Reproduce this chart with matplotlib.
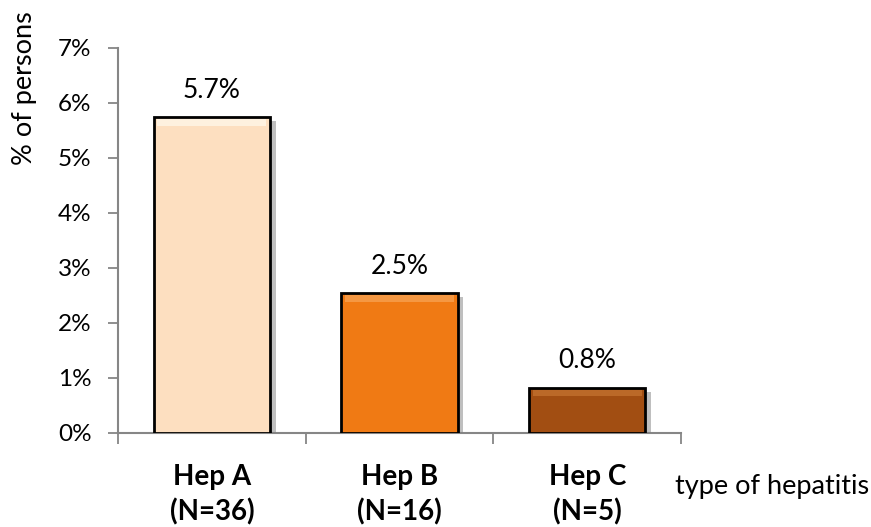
import matplotlib
matplotlib.use("Agg")
import matplotlib.pyplot as plt
import matplotlib.patheffects as pe
from matplotlib.ticker import FixedLocator, PercentFormatter

plt.rcParams['font.family'] = ['Lato', 'DejaVu Sans']

# data
categories = ["Hep A\n(N=36)", "Hep B\n(N=16)", "Hep C\n(N=5)"]
values = [5.74, 2.54, 0.82]
value_labels = ["5.7%", "2.5%", "0.8%"]
bar_colors = ["#FDDFC0", "#F07A14", "#A24E12"]
top_colors = ["#FFF6E8", "#F7A050", "#C2702E"]
y_ticks = [0, 1, 2, 3, 4, 5, 6, 7]

axis_grey = "#868686"

fig = plt.figure(figsize=(8.71, 5.27), dpi=100)
ax = fig.add_axes([0.1355, 0.1784, 0.6464, 0.7306])

x = list(range(len(categories)))
bars = ax.bar(x, values, width=0.62, color=bar_colors, edgecolor="black",
              linewidth=2, zorder=3,
              path_effects=[pe.SimplePatchShadow(offset=(4, -3), shadow_rgbFace="grey", alpha=0.5),
                            pe.Normal()])

# light bevel strip along the top of each bar
strip = 0.12
ax.bar(x, [strip] * len(values), bottom=[v - strip - 0.03 for v in values], width=0.58,
       color=top_colors, linewidth=0, zorder=4, alpha=0.8)

for xi, v, lab in zip(x, values, value_labels):
    ax.annotate(lab, (xi, v), xytext=(0, 14), textcoords="offset points",
                ha="center", va="baseline", fontsize=19)

ax.set_xlim(-0.5, 2.5)
ax.set_ylim(0, 7)
ax.yaxis.set_major_locator(FixedLocator(y_ticks))
ax.yaxis.set_major_formatter(PercentFormatter(decimals=0))

ax.set_xticks(x)
ax.set_xticklabels(categories, fontsize=20, fontweight="bold", linespacing=1.4)
ax.xaxis.set_minor_locator(FixedLocator([-0.5, 0.5, 1.5, 2.5]))
ax.tick_params(axis="x", which="major", length=0, pad=22)
ax.tick_params(axis="x", which="minor", length=8, width=1.3, color=axis_grey, direction="out")
ax.tick_params(axis="y", length=7, width=1.3, color=axis_grey, labelsize=17.5, pad=12)

for side in ["top", "right"]:
    ax.spines[side].set_visible(False)
for side in ["left", "bottom"]:
    ax.spines[side].set_color(axis_grey)
    ax.spines[side].set_linewidth(1.5)

ax.set_xlabel("type of hepatitis", fontsize=19.5, ha="left", va="center")
ax.xaxis.set_label_coords(0.99, -0.14)

fig.text(0.0287, 0.833, "% of persons", rotation=90, ha="center", va="center", fontsize=19.5)

fig.savefig("out.png", dpi=100)
